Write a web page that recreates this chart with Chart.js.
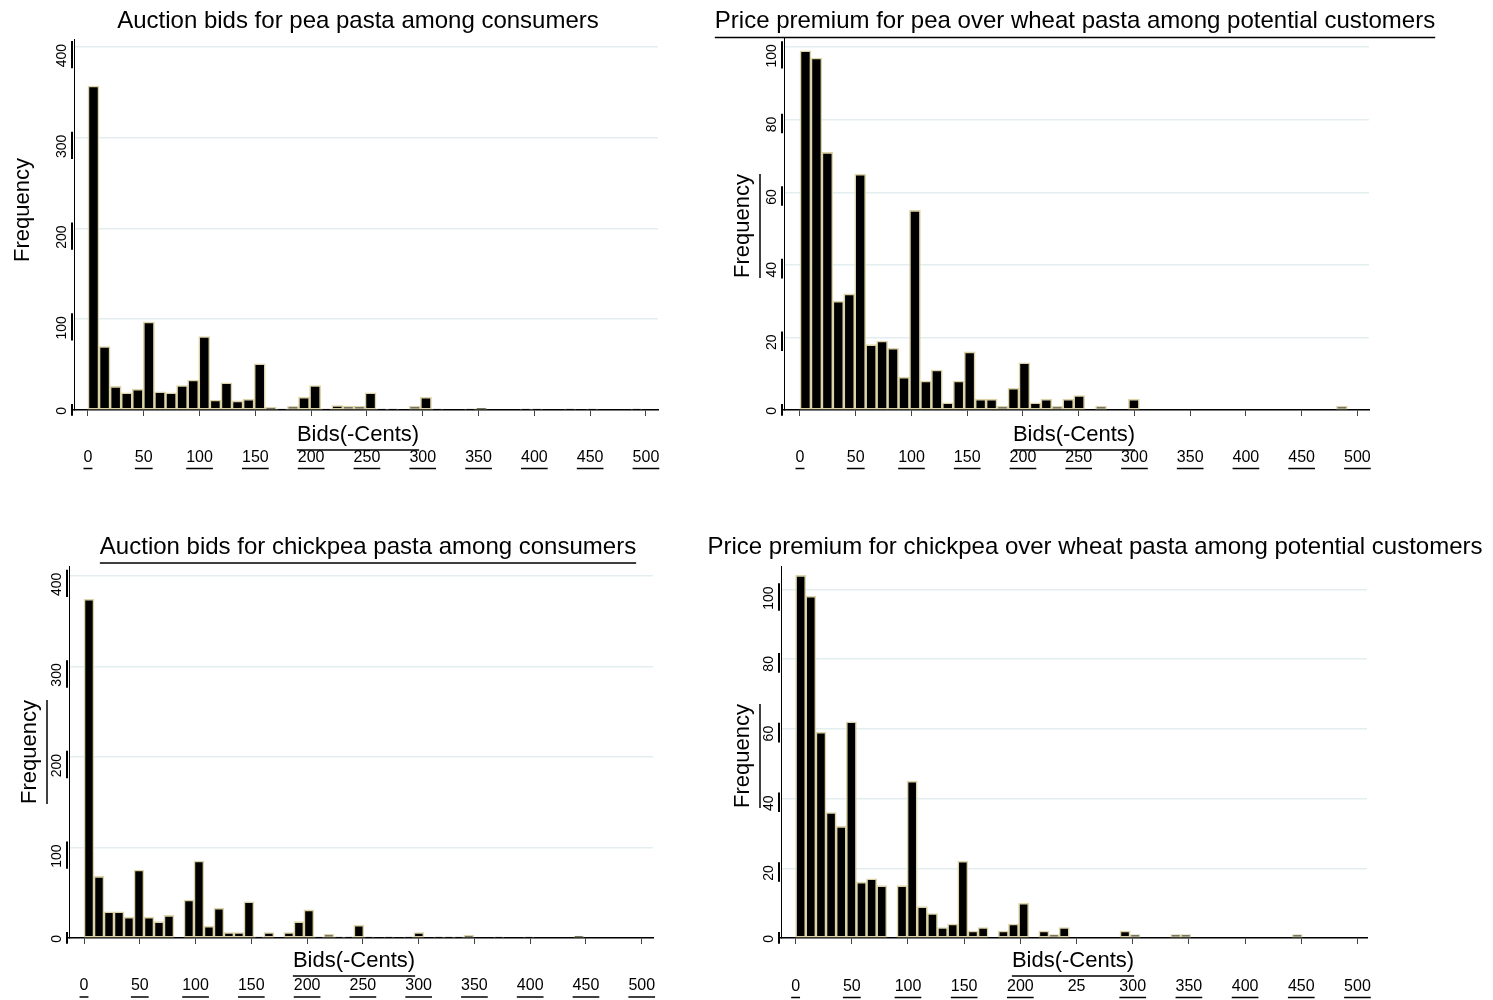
<!DOCTYPE html>
<html>
<head>
<meta charset="utf-8">
<script src="https://cdn.jsdelivr.net/npm/chart.js@4.4.1/dist/chart.umd.min.js"></script>
<style>
  html, body { margin: 0; padding: 0; background: #fff; }
  body { width: 1493px; height: 1000px; position: relative; overflow: hidden; }
  .panel { position: absolute; height: 500px; }
</style>
</head>
<body>
<div class="panel" style="left:0;top:0;width:700px"><canvas id="c1"></canvas></div>
<div class="panel" style="left:700px;top:0;width:793px"><canvas id="c2"></canvas></div>
<div class="panel" style="left:0;top:500px;width:700px"><canvas id="c3"></canvas></div>
<div class="panel" style="left:700px;top:500px;width:793px"><canvas id="c4"></canvas></div>
<script>
// histogram counts per bin (bins start at 0 cents)
const peaAuctionTitle = 'Auction bids for pea pasta among consumers';
const peaAuctionBinWidth = 9.93;
const peaAuctionCounts = [357, 70, 26, 19, 23, 97, 20, 19, 27, 33, 81, 11, 30, 10, 12, 51, 3, 1, 4, 14,
  27, 1, 5, 4, 4, 19, 1, 1, 0, 4, 14, 1, 0, 0, 1, 2, 0, 0, 0, 1, 1, 0, 0, 1, 0, 1, 0, 0, 0, 1];

const peaPremiumTitle = 'Price premium for pea over wheat pasta among potential customers';
const peaPremiumBinWidth = 9.82;
const peaPremiumCounts = [99, 97, 71, 30, 32, 65, 18, 19, 17, 9, 55, 8, 11, 2, 8, 16, 3, 3, 1, 6,
  13, 2, 3, 1, 3, 4, 0, 1, 0, 0, 3, 0, 0, 0, 0, 0, 0, 0, 0, 0, 0, 0, 0, 0, 0, 0, 0, 0, 0, 1];

const chickpeaAuctionTitle = 'Auction bids for chickpea pasta among consumers';
const chickpeaAuctionBinWidth = 8.96;
const chickpeaAuctionCounts = [374, 68, 29, 29, 23, 75, 23, 18, 25, 0, 42, 85, 13, 33, 6, 6, 40, 1, 6, 0,
  6, 18, 31, 1, 4, 1, 1, 14, 1, 0, 1, 0, 1, 6, 0, 1, 1, 1, 3, 0, 0, 1, 0, 0, 1, 0, 0, 0, 0, 2];

const chickpeaPremiumTitle = 'Price premium for chickpea over wheat pasta among potential customers';
const chickpeaPremiumBinWidth = 9.02;
const chickpeaPremiumCounts = [104, 98, 59, 36, 32, 62, 16, 17, 15, 0, 15, 45, 9, 7, 3, 4, 22, 2, 3, 0,
  2, 4, 10, 0, 2, 1, 3, 0, 0, 0, 0, 0, 2, 1, 0, 0, 0, 1, 1, 0, 0, 0, 0, 0, 0, 0, 0, 0, 0, 1];

const xTickValues = [0, 50, 100, 150, 200, 250, 300, 350, 400, 450, 500];
const xTickLabels = ['0', '50', '100', '150', '200', '250', '300', '350', '400', '450', '500'];
const xTickLabelsChickpeaPremium = ['0', '50', '100', '150', '200', '25', '300', '350', '400', '450', '500'];
const auctionYTicks = [0, 100, 200, 300, 400];
const premiumYTicks = [0, 20, 40, 60, 80, 100];
const yAxisTitle = 'Frequency';
const xAxisTitle = 'Bids(-Cents)';

const TAN = '#dcd4a8';
const GRID = '#e4edf0';
const FONT = "'Liberation Sans', Arial, Helvetica, sans-serif";
const Y_LABEL_OFFSET = -3;

function fontAvailable(name) {
    let ctx = document.createElement('canvas').getContext('2d');
    let sample = '0123456789 Bids';
    ctx.font = '40px monospace';
    let base = ctx.measureText(sample).width;
    ctx.font = `40px "${name}", monospace`;
    return ctx.measureText(sample).width !== base;
}

let narrow = fontAvailable('Liberation Sans Narrow');
let xTickFont = narrow
    ? { family: "'Liberation Sans Narrow', " + FONT, size: 19 }
    : { family: FONT, size: 16 };

Chart.defaults.font.family = FONT;
Chart.defaults.color = '#000';

function hline(ctx, cx, y, w) {
    ctx.beginPath();
    ctx.moveTo(cx - w / 2, y);
    ctx.lineTo(cx + w / 2, y);
    ctx.stroke();
}

// titles, axis titles and the odd underlines of the original graph
const stataExtras = {
    id: 'stataExtras',
    afterDraw(chart, args, o) {
        let ctx = chart.ctx;
        let area = chart.chartArea;
        ctx.save();
        ctx.fillStyle = '#000';
        ctx.strokeStyle = '#000';
        ctx.lineWidth = 1.5;
        ctx.textAlign = 'center';
        ctx.textBaseline = 'middle';

        ctx.font = `24px ${FONT}`;
        ctx.fillText(o.title, o.titleX, o.titleY);
        if (o.titleLine) hline(ctx, o.titleX, o.titleY + 16, ctx.measureText(o.title).width);

        ctx.font = `22px ${FONT}`;
        ctx.save();
        ctx.translate(o.freqX, o.freqY);
        ctx.rotate(-Math.PI / 2);
        ctx.fillText(yAxisTitle, 0, 0);
        if (o.freqLine) hline(ctx, 0, 17, ctx.measureText(yAxisTitle).width);
        ctx.restore();

        ctx.fillText(xAxisTitle, o.bidsX, o.bidsY);
        hline(ctx, o.bidsX, o.bidsY + 15, ctx.measureText(xAxisTitle).width);

        let xs = chart.scales.x;
        ctx.font = `${xTickFont.size}px ${xTickFont.family}`;
        xs.ticks.forEach((t) => {
            if (o.xLineSkip.includes(t.label)) return;
            let w = ctx.measureText(t.label).width;
            hline(ctx, xs.getPixelForValue(t.value), area.bottom + o.xLabelDy + 11, w);
        });

        let ys = chart.scales.y;
        ctx.font = `14px ${FONT}`;
        ctx.lineWidth = 2;
        ys.ticks.forEach((t) => {
            let w = ctx.measureText(t.label).width;
            let py = ys.getPixelForValue(t.value) + Y_LABEL_OFFSET;
            ctx.beginPath();
            ctx.moveTo(area.left - 2, py - 3);
            ctx.lineTo(area.left - 2, py + w + 1);
            ctx.stroke();
        });
        ctx.restore();
    }
};

function histogram(p) {
    let points = p.counts.map((c, i) => ({ x: (i + 0.5) * p.binWidth, y: c === 0 ? null : c }));
    let canvas = document.getElementById(p.canvas);
    let W = canvas.parentElement.clientWidth;
    let tickLen = 6;
    return new Chart(canvas, {
        type: 'bar',
        data: {
            datasets: [{
                data: points,
                backgroundColor: '#000',
                borderColor: TAN,
                borderWidth: 1.6,
                borderSkipped: false,
                barPercentage: 1,
                categoryPercentage: 1
            }]
        },
        options: {
            responsive: true,
            maintainAspectRatio: false,
            animation: false,
            layout: { padding: { left: 0, top: p.box.top, right: W - p.box.right, bottom: 0 } },
            plugins: {
                legend: { display: false },
                tooltip: { enabled: false },
                title: { display: false },
                stataExtras: Object.assign({ title: p.title }, p.text)
            },
            scales: {
                x: {
                    type: 'linear',
                    offset: false,
                    min: p.xMin,
                    max: p.xMax,
                    afterBuildTicks: (s) => { s.ticks = xTickValues.map(v => ({ value: v })); },
                    afterFit: (s) => { s.height = 500 - p.box.bottom; },
                    ticks: {
                        autoSkip: false,
                        maxRotation: 0,
                        color: '#000',
                        font: xTickFont,
                        padding: p.text.xLabelDy - tickLen - xTickFont.size * 0.6,
                        callback: (v, i) => p.xLabels[i]
                    },
                    grid: { offset: false, drawOnChartArea: false, drawTicks: true, tickLength: tickLen, tickColor: '#444', tickWidth: 1 },
                    border: { display: true, color: '#000', width: 1.5 }
                },
                y: {
                    min: 0,
                    max: p.yMax,
                    afterBuildTicks: (s) => { s.ticks = p.yTicks.map(v => ({ value: v })); },
                    afterFit: (s) => { s.width = p.box.left; },
                    ticks: {
                        autoSkip: false,
                        minRotation: 90,
                        maxRotation: 90,
                        padding: 11.5,
                        labelOffset: Y_LABEL_OFFSET,
                        color: '#000',
                        font: { size: 14 }
                    },
                    grid: { color: GRID, lineWidth: 1.5, drawTicks: false },
                    border: { color: '#000', width: 1 }
                }
            }
        },
        plugins: [stataExtras]
    });
}

histogram({
    canvas: 'c1', title: peaAuctionTitle, counts: peaAuctionCounts, binWidth: peaAuctionBinWidth,
    yTicks: auctionYTicks, xLabels: xTickLabels,
    box: { left: 74, right: 658, top: 39, bottom: 410 }, xMin: -12.5, xMax: 510.8, yMax: 408.8,
    text: { titleX: 358, titleY: 21.5, titleLine: false, freqX: 23, freqY: 210, freqLine: false,
            bidsX: 358, bidsY: 435, xLabelDy: 47.5, xLineSkip: [] }
});
histogram({
    canvas: 'c2', title: peaPremiumTitle, counts: peaPremiumCounts, binWidth: peaPremiumBinWidth,
    yTicks: premiumYTicks, xLabels: xTickLabels,
    box: { left: 84, right: 669, top: 37, bottom: 410 }, xMin: -14.35, xMax: 510.4, yMax: 102.8,
    text: { titleX: 375, titleY: 21.5, titleLine: true, freqX: 43, freqY: 226, freqLine: true,
            bidsX: 374, bidsY: 435, xLabelDy: 47.5, xLineSkip: [] }
});
histogram({
    canvas: 'c3', title: chickpeaAuctionTitle, counts: chickpeaAuctionCounts, binWidth: chickpeaAuctionBinWidth,
    yTicks: auctionYTicks, xLabels: xTickLabels,
    box: { left: 69, right: 653, top: 66, bottom: 438 }, xMin: -13.45, xMax: 510.1, yMax: 410.7,
    text: { titleX: 368, titleY: 47, titleLine: true, freqX: 30, freqY: 252, freqLine: true,
            bidsX: 354, bidsY: 461, xLabelDy: 48, xLineSkip: [] }
});
histogram({
    canvas: 'c4', title: chickpeaPremiumTitle, counts: chickpeaPremiumCounts, binWidth: chickpeaPremiumBinWidth,
    yTicks: premiumYTicks, xLabels: xTickLabelsChickpeaPremium,
    box: { left: 81, right: 667, top: 66, bottom: 438 }, xMin: -13.0, xMax: 508.5, yMax: 106.7,
    text: { titleX: 395, titleY: 47, titleLine: false, freqX: 43, freqY: 256, freqLine: true,
            bidsX: 373, bidsY: 461, xLabelDy: 48.5, xLineSkip: ['25'] }
});
</script>
</body>
</html>
